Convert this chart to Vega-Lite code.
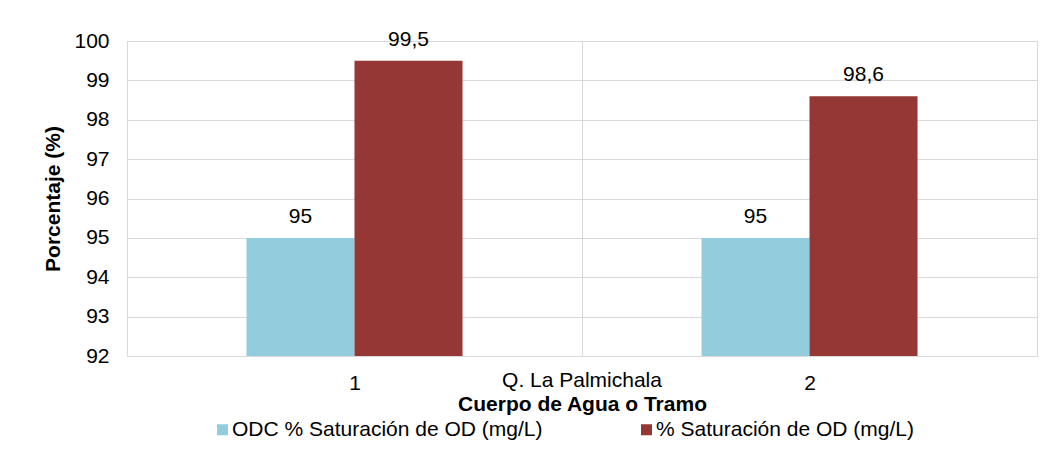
{
  "$schema": "https://vega.github.io/schema/vega-lite/v6.json",
  "width": 910,
  "height": 315,
  "autosize": {"type": "none"},
  "padding": {"left": 127, "top": 41, "right": 16, "bottom": 103},
  "background": "white",
  "config": {
    "font": "Liberation Sans",
    "locale": {"number": {"decimal": ",", "thousands": ".", "grouping": [3], "currency": ["", " €"]}},
    "view": {"stroke": "#d9d9d9", "strokeWidth": 1},
    "axis": {
      "labelFont": "Liberation Sans", "labelFontSize": 21, "labelColor": "#000000",
      "titleFont": "Liberation Sans", "titleFontSize": 21, "titleColor": "#000000", "titleFontWeight": "bold",
      "gridColor": "#d9d9d9", "gridWidth": 1, "ticks": false, "domain": false
    }
  },
  "data": {"values": [
    {"cuerpo": "Q. La Palmichala", "tramo": "1", "serie": "ODC % Saturación de OD (mg/L)", "valor": 95},
    {"cuerpo": "Q. La Palmichala", "tramo": "1", "serie": "% Saturación de OD (mg/L)", "valor": 99.5},
    {"cuerpo": "Q. La Palmichala", "tramo": "2", "serie": "ODC % Saturación de OD (mg/L)", "valor": 95},
    {"cuerpo": "Q. La Palmichala", "tramo": "2", "serie": "% Saturación de OD (mg/L)", "valor": 98.6}
  ]},
  "layer": [
    {
      "encoding": {
        "x": {"field": "tramo", "type": "nominal",
          "scale": {"paddingInner": 0, "paddingOuter": 0},
          "axis": {"title": null, "orient": "bottom", "labelAngle": 0, "labelPadding": 16, "grid": true, "tickBand": "extent"}},
        "xOffset": {"field": "serie", "type": "nominal",
          "scale": {"domain": ["_a", "ODC % Saturación de OD (mg/L)", "% Saturación de OD (mg/L)", "_b"], "paddingInner": 0, "paddingOuter": 0.106}},
        "y": {"field": "valor", "type": "quantitative",
          "scale": {"domain": [92, 100], "zero": false, "nice": false},
          "axis": {"title": "Porcentaje (%)", "values": [92, 93, 94, 95, 96, 97, 98, 99, 100], "labelPadding": 18, "titlePadding": 10, "grid": true}}
      },
      "layer": [
        {
          "mark": {"type": "bar", "clip": true},
          "encoding": {
            "color": {"field": "serie", "type": "nominal",
              "scale": {"domain": ["ODC % Saturación de OD (mg/L)", "% Saturación de OD (mg/L)"], "range": ["#93CDDD", "#953735"]},
              "legend": {"orient": "none", "legendX": 85, "legendY": 378, "direction": "horizontal", "title": null,
                "symbolType": "square", "symbolSize": 121, "symbolStrokeWidth": 0,
                "labelFont": "Liberation Sans", "labelFontSize": 21, "labelColor": "#000000", "labelOffset": -1, "labelLimit": 500,
                "columnPadding": 93, "padding": 0}}
          }
        },
        {
          "mark": {"type": "text", "baseline": "alphabetic", "dy": -15, "fontSize": 21, "font": "Liberation Sans", "color": "#000000"},
          "encoding": {"text": {"field": "valor", "type": "quantitative", "format": ".1~f"}}
        }
      ]
    },
    {
      "mark": {"type": "bar", "opacity": 0},
      "encoding": {
        "x": {"field": "cuerpo", "type": "nominal",
          "axis": {"orient": "bottom", "title": "Cuerpo de Agua o Tramo", "labelAngle": 0, "labelPadding": 13, "titlePadding": 3, "grid": false}}
      }
    }
  ],
  "resolve": {"scale": {"x": "independent"}, "axis": {"x": "independent"}}
}
